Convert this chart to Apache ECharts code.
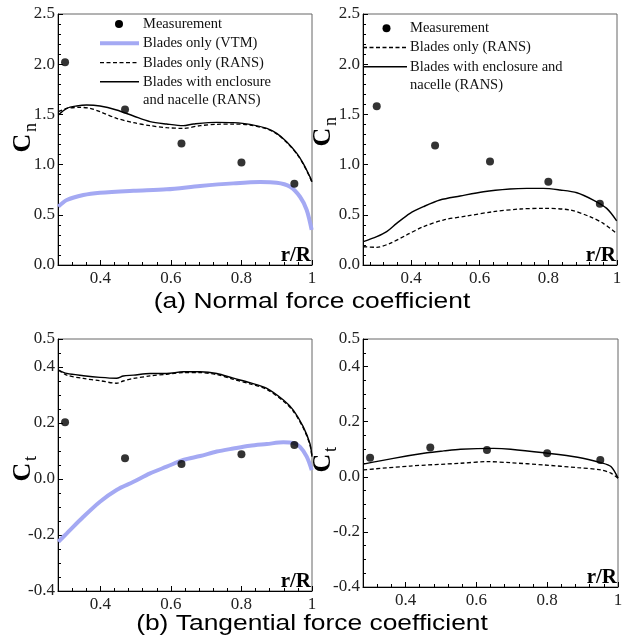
<!DOCTYPE html>
<html><head><meta charset="utf-8">
<script src="https://cdn.jsdelivr.net/npm/echarts@6/dist/echarts.min.js"></script>
<style>html,body{margin:0;padding:0;background:#fff}#c{width:627px;height:642px}</style>
</head><body><div id="c"></div>
<script>
// ---------- tick labels ----------
const xTickLabels = [0.4, 0.6, 0.8, 1];
const cnTickLabels = [0, 0.5, 1.0, 1.5, 2.0, 2.5];
const ctTickLabels = [-0.4, -0.2, 0, 0.2, 0.4, 0.5];

// ---------- (a) Normal force, left case ----------
const measCnA = [[0.30,2.02],[0.47,1.55],[0.63,1.21],[0.80,1.02],[0.95,0.81]];
const vtmCnA = [[0.281,0.581],[0.305,0.647],[0.352,0.697],[0.399,0.72],[0.494,0.74],[0.588,0.754],[0.683,0.787],[0.777,0.813],[0.853,0.826],[0.900,0.82],[0.938,0.78],[0.966,0.68],[0.985,0.548],[0.999,0.349]];
const ransCnA = [[0.281,1.527],[0.305,1.560],[0.342,1.570],[0.371,1.560],[0.399,1.527],[0.446,1.461],[0.494,1.418],[0.541,1.388],[0.588,1.368],[0.635,1.361],[0.683,1.388],[0.730,1.401],[0.777,1.404],[0.824,1.394],[0.872,1.355],[0.900,1.305],[0.928,1.222],[0.957,1.105],[0.975,1.006],[0.994,0.873],[1.0,0.823]];
const encCnA = [[0.281,1.494],[0.305,1.560],[0.333,1.584],[0.361,1.594],[0.399,1.584],[0.446,1.544],[0.494,1.484],[0.541,1.428],[0.588,1.404],[0.635,1.388],[0.664,1.404],[0.730,1.421],[0.777,1.418],[0.824,1.401],[0.872,1.361],[0.900,1.311],[0.928,1.228],[0.957,1.112],[0.975,1.013],[0.994,0.880],[1.0,0.830]];

// ---------- (a) Normal force, right case ----------
const measCnB = [[0.30,1.58],[0.47,1.19],[0.63,1.03],[0.80,0.83],[0.95,0.61]];
const ransCnB = [[0.261,0.182],[0.300,0.176],[0.339,0.216],[0.387,0.299],[0.436,0.382],[0.494,0.448],[0.562,0.488],[0.640,0.531],[0.718,0.558],[0.785,0.564],[0.863,0.548],[0.921,0.481],[0.960,0.415],[0.999,0.315]];
const encCnB = [[0.261,0.232],[0.300,0.282],[0.329,0.332],[0.358,0.415],[0.397,0.515],[0.436,0.581],[0.484,0.647],[0.543,0.687],[0.611,0.730],[0.688,0.757],[0.737,0.763],[0.785,0.763],[0.834,0.747],[0.883,0.720],[0.931,0.647],[0.970,0.564],[0.999,0.44]];

// ---------- (b) Tangential force, left case ----------
const measCtA = [[0.30,0.203],[0.47,0.074],[0.63,0.054],[0.80,0.088],[0.95,0.121]];
const vtmCtA = [[0.281,-0.224],[0.305,-0.194],[0.352,-0.135],[0.399,-0.081],[0.446,-0.039],[0.494,-0.010],[0.541,0.020],[0.588,0.044],[0.635,0.068],[0.683,0.082],[0.730,0.098],[0.777,0.109],[0.824,0.119],[0.872,0.125],[0.919,0.131],[0.947,0.129],[0.966,0.115],[0.985,0.080],[0.999,0.032]];
const ransCtA = [[0.281,0.389],[0.305,0.371],[0.352,0.359],[0.399,0.351],[0.446,0.342],[0.465,0.350],[0.494,0.359],[0.541,0.368],[0.588,0.374],[0.635,0.380],[0.683,0.380],[0.730,0.373],[0.777,0.356],[0.824,0.340],[0.872,0.320],[0.919,0.278],[0.947,0.242],[0.975,0.183],[0.994,0.123],[1.0,0.078]];
const encCtA = [[0.281,0.389],[0.305,0.377],[0.352,0.369],[0.399,0.363],[0.446,0.360],[0.465,0.368],[0.494,0.371],[0.541,0.377],[0.588,0.377],[0.635,0.383],[0.683,0.383],[0.730,0.377],[0.777,0.360],[0.824,0.344],[0.872,0.324],[0.919,0.282],[0.947,0.246],[0.975,0.187],[0.994,0.127],[1.0,0.080]];

// ---------- (b) Tangential force, right case ----------
const measCtB = [[0.30,0.069],[0.47,0.106],[0.63,0.097],[0.80,0.085],[0.95,0.061]];
const ransCtB = [[0.281,0.025],[0.413,0.039],[0.555,0.049],[0.631,0.055],[0.697,0.051],[0.791,0.043],[0.886,0.033],[0.952,0.025],[0.980,0.013],[1.0,-0.005]];
const encCtB = [[0.281,0.046],[0.366,0.067],[0.461,0.087],[0.508,0.094],[0.555,0.100],[0.649,0.103],[0.697,0.100],[0.791,0.087],[0.886,0.071],[0.952,0.051],[0.980,0.037],[1.0,-0.005]];

// ---------- layout / styles ----------
const SERIF = '"Liberation Serif", "Times New Roman", serif';
const SANS = '"Liberation Sans", Arial, sans-serif';
const VTM_COLOR = '#a4a9f3';
const DASH = [4, 2.5];

function steps(a, b, s) { const out = []; for (let v = a; v <= b + 1e-9; v += s) out.push(+v.toFixed(4)); return out; }

const panels = [
  {grid:{left:58, top:14, width:254, height:251}, xMin:0.28, yMin:0, yMax:2.5, yLabels:cnTickLabels, yMinor:steps(0,2.5,0.1),
   meas:measCnA, vtm:vtmCnA, rans:ransCnA, enc:encCnA},
  {grid:{left:363, top:14, width:254, height:251}, xMin:0.26, yMin:0, yMax:2.5, yLabels:cnTickLabels, yMinor:steps(0,2.5,0.1),
   meas:measCnB, vtm:null, rans:ransCnB, enc:encCnB},
  {grid:{left:58, top:339, width:254, height:252}, xMin:0.28, yMin:-0.4, yMax:0.5, yLabels:ctTickLabels, yMinor:steps(-0.4,0.5,0.05),
   meas:measCtA, vtm:vtmCtA, rans:ransCtA, enc:encCtA},
  {grid:{left:363, top:339, width:255, height:248}, xMin:0.28, yMin:-0.4, yMax:0.5, yLabels:ctTickLabels, yMinor:steps(-0.4,0.5,0.05),
   meas:measCtB, vtm:null, rans:ransCtB, enc:encCtB}
];

const grid = [], xAxis = [], yAxis = [], series = [];
const labelStyle = {fontFamily: SERIF, fontSize: 17, color: '#222'};
panels.forEach((p, i) => {
  grid.push(Object.assign({show:true, borderColor:'#666', borderWidth:1, containLabel:false}, p.grid));
  const xMinor = steps(0.2, 1, 0.04).filter(v => v >= p.xMin - 1e-9);
  xAxis.push({type:'value', gridIndex:i, position:'bottom', min:p.xMin, max:1, splitLine:{show:false},
    axisLine:{show:true, onZero:false, lineStyle:{color:'#000', width:1}},
    axisTick:{show:true, inside:true, length:5, customValues:xTickLabels, lineStyle:{color:'#000'}},
    axisLabel:Object.assign({show:true, margin:5, customValues:xTickLabels, formatter:v => (Math.abs(v-1)<1e-9 ? '1' : v.toFixed(1))}, labelStyle)});
  xAxis.push({type:'value', gridIndex:i, position:'bottom', min:p.xMin, max:1, splitLine:{show:false},
    axisLine:{show:false, onZero:false}, axisLabel:{show:false},
    axisTick:{show:true, inside:true, length:3, customValues:xMinor, lineStyle:{color:'#000'}}});
  yAxis.push({type:'value', gridIndex:i, position:'left', min:p.yMin, max:p.yMax, splitLine:{show:false},
    axisLine:{show:true, onZero:false, lineStyle:{color:'#000', width:1}},
    axisTick:{show:true, inside:true, length:5, customValues:p.yLabels, lineStyle:{color:'#000'}},
    axisLabel:Object.assign({show:true, margin:3, customValues:p.yLabels, formatter:v => v.toFixed(1)}, labelStyle)});
  yAxis.push({type:'value', gridIndex:i, position:'left', min:p.yMin, max:p.yMax, splitLine:{show:false},
    axisLine:{show:false, onZero:false}, axisLabel:{show:false},
    axisTick:{show:true, inside:true, length:3, customValues:p.yMinor, lineStyle:{color:'#000'}}});
  const xi = 2*i, yi = 2*i;
  if (p.vtm) series.push({name:'Blades only (VTM)', type:'line', xAxisIndex:xi, yAxisIndex:yi, data:p.vtm, showSymbol:false, smooth:0.3,
    lineStyle:{color:VTM_COLOR, width:4}, z:2});
  series.push({name:'Blades only (RANS)', type:'line', xAxisIndex:xi, yAxisIndex:yi, data:p.rans, showSymbol:false, smooth:0.3,
    lineStyle:{color:'#000', width:1.3, type:DASH}, z:3});
  series.push({name:'Blades with enclosure and nacelle (RANS)', type:'line', xAxisIndex:xi, yAxisIndex:yi, data:p.enc, showSymbol:false, smooth:0.3,
    lineStyle:{color:'#000', width:1.4}, z:4});
  series.push({name:'Measurement', type:'scatter', xAxisIndex:xi, yAxisIndex:yi, data:p.meas, symbol:'circle', symbolSize:8,
    itemStyle:{color:'#000'}, z:5});
});

const legendFont = '14.5px ' + SERIF;
function ltext(x, y, t) { return {type:'text', x:x, y:y, style:{text:t, font:legendFont, fill:'#111', align:'left', verticalAlign:'middle'}}; }
function lline(x1, x2, y, stroke, w, dash) { return {type:'line', shape:{x1:x1, y1:y, x2:x2, y2:y}, style:{stroke:stroke, lineWidth:w, lineDash:dash || null}}; }
function ldot(x, y) { return {type:'circle', shape:{cx:x, cy:y, r:4}, style:{fill:'#000'}}; }
function ytitle(cx, cy, sub) {
  return {type:'group', x:cx, y:cy, rotation:Math.PI/2, children:[
    {type:'text', x:0, y:0, style:{text:'C', font:'bold 26px ' + SERIF, fill:'#000', align:'center', verticalAlign:'middle'}},
    {type:'text', x:11, y:8, style:{text:sub, font:'18px ' + SERIF, fill:'#000', align:'left', verticalAlign:'middle'}}
  ]};
}
function rR(x, y) { return {type:'text', x:x, y:y, style:{text:'r/R', font:'bold 21px ' + SERIF, fill:'#000', align:'right', verticalAlign:'bottom'}}; }
function caption(y, t) { return {type:'text', x:312, y:y, scaleX:1.2, style:{text:t, font:'22px ' + SANS, fill:'#000', align:'center', verticalAlign:'middle'}}; }

const graphic = [
  // legend (a) left
  ldot(119, 24), ltext(143, 24, 'Measurement'),
  lline(100, 139, 43.3, VTM_COLOR, 4), ltext(143, 43.3, 'Blades only (VTM)'),
  lline(100, 139, 62.7, '#000', 1.3, DASH), ltext(143, 62.7, 'Blades only (RANS)'),
  lline(100, 139, 81.7, '#000', 1.4), ltext(143, 81.7, 'Blades with enclosure'),
  ltext(143, 100, 'and nacelle (RANS)'),
  // legend (a) right
  ldot(386.5, 28.3), ltext(410, 28.3, 'Measurement'),
  lline(363, 407, 47.5, '#000', 1.3, DASH), ltext(410, 47.5, 'Blades only (RANS)'),
  lline(363, 407, 66.7, '#000', 1.4), ltext(410, 66.7, 'Blades with enclosure and'),
  ltext(410, 85.5, 'nacelle (RANS)'),
  // axis titles
  ytitle(23.5, 143, 'n'), ytitle(323.5, 137, 'n'), ytitle(23.5, 472, 't'), ytitle(323.5, 463, 't'),
  rR(311, 266), rR(616, 266), rR(311, 592), rR(617, 588),
  // captions
  caption(302, '(a) Normal force coefficient'),
  caption(624, '(b) Tangential force coefficient')
];

const chart = echarts.init(document.getElementById('c'), null, {renderer:'canvas'});
chart.setOption({animation:false, backgroundColor:'#fff', grid, xAxis, yAxis, series, graphic:{elements:graphic}});
</script>
</body></html>
